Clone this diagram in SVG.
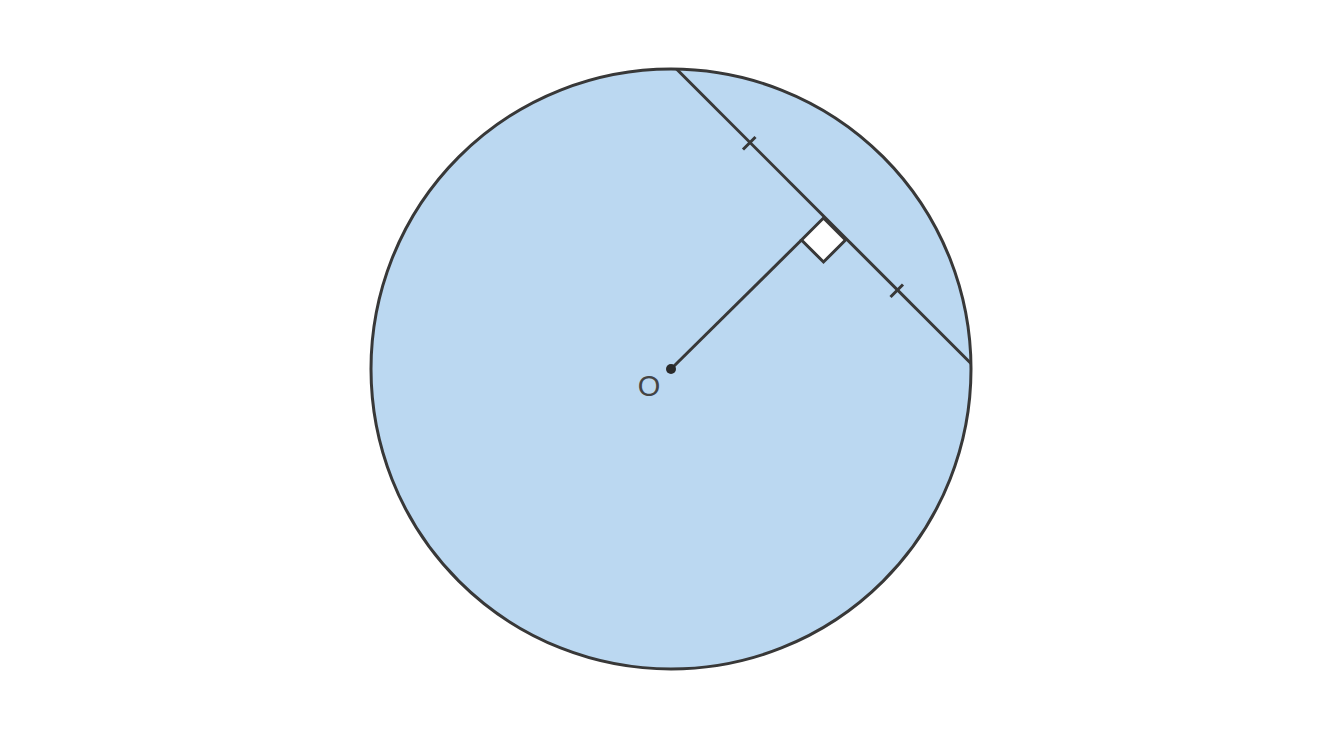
<svg xmlns="http://www.w3.org/2000/svg" width="1317" height="744" viewBox="0 0 1317 744">
<style>
.ln{stroke:#383838;stroke-width:3;fill:none;stroke-linecap:butt}
.lbl{font-family:"Liberation Sans",Arial,sans-serif;font-size:29px;fill:#444}
</style>
<rect width="1317" height="744" fill="#fff"/>
<g id="circle">
<circle cx="671" cy="369" r="300" fill="#bbd8f1" stroke="#383838" stroke-width="3"/>
</g>
<g id="connectors">
<line class="ln" x1="676.5" y1="69" x2="971" y2="363.5"/>
<line class="ln" x1="671" y1="369" x2="801.5" y2="240"/>
<polygon points="823.5,218 845.5,240 823.5,262 801.5,240" fill="#fff" stroke="#383838" stroke-width="3" stroke-linejoin="miter"/>
<line class="ln" x1="743" y1="149.5" x2="755.5" y2="137"/>
<line class="ln" x1="890.5" y1="297" x2="903" y2="284.5"/>
</g>
<g id="O">
<circle cx="671" cy="369" r="5" fill="#2a2a2a"/>
<text class="lbl" x="649" y="396" text-anchor="middle">O</text>
</g>
</svg>
